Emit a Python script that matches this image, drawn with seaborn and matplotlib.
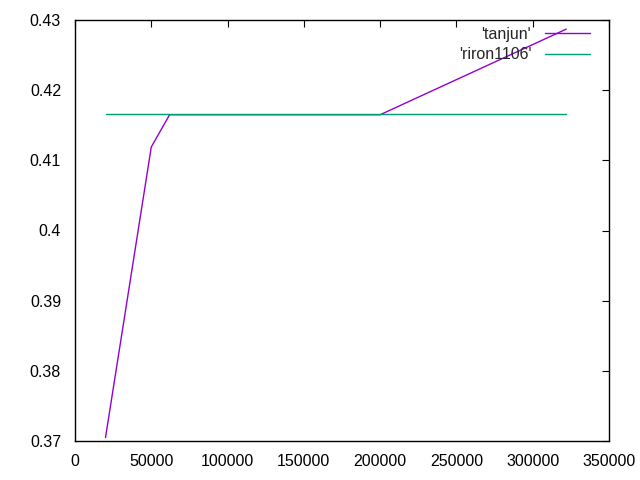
import matplotlib
matplotlib.use("Agg")
import matplotlib.pyplot as plt
import seaborn as sns
import pandas as pd

# data
tanjun_x = [20000, 50000, 62000, 200000, 322000]
tanjun_y = [0.3705, 0.4119, 0.4165, 0.4165, 0.4287]
riron_x = [20000, 50000, 62000, 200000, 322000]
riron_y = [0.4166, 0.4166, 0.4166, 0.4166, 0.4166]
x_ticks = [0, 50000, 100000, 150000, 200000, 250000, 300000, 350000]
y_ticks = [0.37, 0.38, 0.39, 0.40, 0.41, 0.42, 0.43]
y_tick_labels = ["0.37", "0.38", "0.39", "0.4", "0.41", "0.42", "0.43"]

sns.set_style("white")
plt.rcParams["font.family"] = ["Liberation Sans", "DejaVu Sans"]

fig = plt.figure(figsize=(6.4, 4.8), dpi=100)
ax = fig.add_axes([75 / 640, 39 / 480, 534 / 640, 421 / 480])

df_t = pd.DataFrame({"x": tanjun_x, "y": tanjun_y})
df_r = pd.DataFrame({"x": riron_x, "y": riron_y})
sns.lineplot(data=df_t, x="x", y="y", ax=ax, color="#9400D3", lw=1.0,
             sort=False, label="'tanjun'")
sns.lineplot(data=df_r, x="x", y="y", ax=ax, color="#009E73", lw=1.0,
             sort=False, label="'riron1106'")

ax.set_xlim(0, 350000)
ax.set_ylim(0.37, 0.43)
ax.set_xticks(x_ticks)
ax.set_xticklabels([str(v) for v in x_ticks])
ax.set_yticks(y_ticks)
ax.set_yticklabels(y_tick_labels)
ax.set_xlabel("")
ax.set_ylabel("")
ax.tick_params(direction="in", length=5, width=0.8, top=True, right=True,
               labelsize=11.5, colors="black")
ax.tick_params(axis="y", pad=10)
ax.tick_params(axis="x", pad=9.2)
for s in ax.spines.values():
    s.set_color("black")
    s.set_linewidth(1.0)

leg = ax.legend(loc="upper right", frameon=False, markerfirst=False,
                fontsize=11.5, handlelength=2.8, handletextpad=0.88,
                labelspacing=0.33, borderaxespad=0.0, borderpad=0.0,
                bbox_to_anchor=((590 - 75) / 534, (441 - 27) / 421))
for t in leg.get_texts():
    t.set_ha("right")

fig.savefig("out.png", dpi=100)
